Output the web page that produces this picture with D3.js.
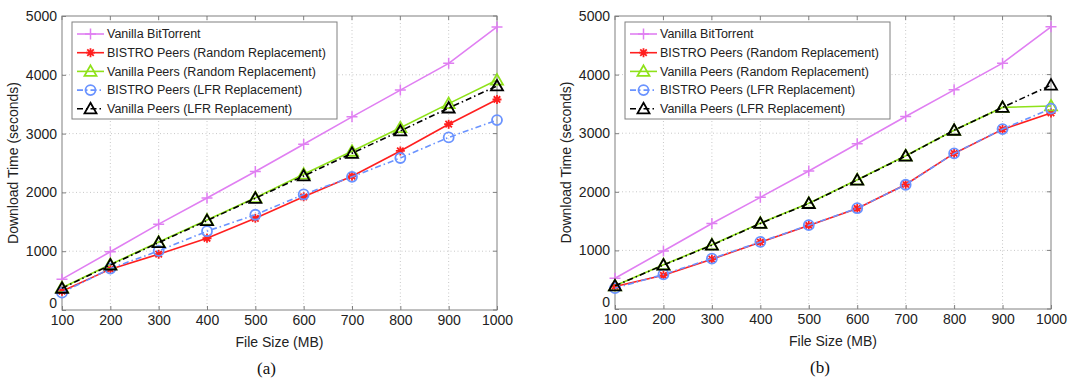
<!DOCTYPE html>
<html>
<head>
<meta charset="utf-8">
<script src="https://cdn.jsdelivr.net/npm/d3@7"></script>
<style>
  body { margin: 0; background: #fff; }
  svg text { font-family: "Liberation Sans", Arial, sans-serif; }
</style>
</head>
<body>
<svg id="chart" width="1070" height="385"></svg>
<script>
// data
const fileSizes = [100, 200, 300, 400, 500, 600, 700, 800, 900, 1000];
const yTicks = [0, 1000, 2000, 3000, 4000, 5000];

const vanillaBT = [525, 990, 1460, 1905, 2355, 2820, 3285, 3740, 4195, 4815];

const bistroRandomA = [320, 695, 950, 1220, 1560, 1925, 2275, 2705, 3160, 3580];
const vanillaRandomA = [380, 775, 1155, 1530, 1910, 2310, 2700, 3100, 3510, 3910];
const bistroLfrA = [295, 705, 1005, 1340, 1620, 1965, 2265, 2585, 2935, 3230];
const vanillaLfrA = [370, 765, 1145, 1520, 1900, 2280, 2665, 3045, 3435, 3810];

const bistroRandomB = [385, 575, 850, 1140, 1425, 1715, 2125, 2655, 3065, 3345];
const vanillaRandomB = [395, 755, 1095, 1465, 1805, 2205, 2615, 3050, 3440, 3465];
const bistroLfrB = [355, 590, 860, 1145, 1430, 1720, 2120, 2655, 3070, 3420];
const vanillaLfrB = [395, 750, 1090, 1460, 1800, 2200, 2610, 3050, 3440, 3820];

const seriesNames = [
    "Vanilla BitTorrent",
    "BISTRO Peers (Random Replacement)",
    "Vanilla Peers (Random Replacement)",
    "BISTRO Peers (LFR Replacement)",
    "Vanilla Peers (LFR Replacement)"
];

// style per series (same order as names)
const styles = [
    { color: "#e07ff2", dash: null, marker: "plus" },
    { color: "#ff1f1f", dash: null, marker: "star" },
    { color: "#8fe21a", dash: null, marker: "triangle" },
    { color: "#6a93ff", dash: "6,3,1.5,3", marker: "circle" },
    { color: "#000000", dash: "6,3,1.5,3", marker: "triangle" }
];

const svg = d3.select("#chart");

function drawMarker(g, type, x, y, color) {
    if (type === "plus") {
        g.append("path")
            .attr("d", "M" + (x - 5.5) + "," + y + "H" + (x + 5.5) + "M" + x + "," + (y - 5.5) + "V" + (y + 5.5))
            .attr("stroke", color).attr("stroke-width", 1.5).attr("fill", "none");
    }
    else if (type === "star") {
        const r = 4.5, d = r * 0.72;
        g.append("path")
            .attr("d", "M" + (x - r) + "," + y + "H" + (x + r) + "M" + x + "," + (y - r) + "V" + (y + r) +
                "M" + (x - d) + "," + (y - d) + "L" + (x + d) + "," + (y + d) +
                "M" + (x - d) + "," + (y + d) + "L" + (x + d) + "," + (y - d))
            .attr("stroke", color).attr("stroke-width", 1.8).attr("fill", "none");
    }
    else if (type === "triangle") {
        const s = 6;
        g.append("path")
            .attr("d", "M" + x + "," + (y - s) + "L" + (x + s) + "," + (y + s * 0.75) + "L" + (x - s) + "," + (y + s * 0.75) + "Z")
            .attr("stroke", color).attr("stroke-width", 1.8).attr("fill", "none");
    }
    else if (type === "circle") {
        g.append("circle")
            .attr("cx", x).attr("cy", y).attr("r", 5)
            .attr("stroke", color).attr("stroke-width", 1.8).attr("fill", "none");
    }
}

function drawPanel(left, right, top, bottom, series, caption) {

    const x = d3.scaleLinear().domain([100, 1000]).range([left, right]);
    const y = d3.scaleLinear().domain([0, 5000]).range([bottom, top]);

    const g = svg.append("g");

    // grid
    g.selectAll(".gx").data(fileSizes.slice(1, -1)).enter().append("line")
        .attr("x1", d => x(d)).attr("x2", d => x(d))
        .attr("y1", top).attr("y2", bottom)
        .attr("stroke", "#c8c8c8").attr("stroke-dasharray", "1,2.5");
    g.selectAll(".gy").data(yTicks.slice(1, -1)).enter().append("line")
        .attr("x1", left).attr("x2", right)
        .attr("y1", d => y(d)).attr("y2", d => y(d))
        .attr("stroke", "#c8c8c8").attr("stroke-dasharray", "1,2.5");

    // axes
    const xAxis = g.append("g").attr("transform", "translate(0," + bottom + ")")
        .call(d3.axisBottom(x).tickValues(fileSizes).tickFormat(d3.format("d")).tickSize(-4).tickPadding(7));
    const yAxis = g.append("g").attr("transform", "translate(" + left + ",0)")
        .call(d3.axisLeft(y).tickValues(yTicks).tickFormat(d3.format("d")).tickSize(-4).tickPadding(5));
    [xAxis, yAxis].forEach(function(a) {
        a.select(".domain").remove();
        a.selectAll("line").attr("stroke", "#808080");
        a.selectAll("text").attr("font-size", 14).attr("fill", "#222")
            .style("font-family", "'Liberation Sans', Arial, sans-serif");
    });
    xAxis.selectAll("text").attr("dy", "0.55em");
    // lift the "0" a little so it clears the "100" below it
    yAxis.selectAll(".tick").filter(d => d === 0).select("text").attr("dy", "-0.2em");

    // top and right ticks
    g.selectAll(".tt").data(fileSizes).enter().append("line")
        .attr("x1", d => x(d)).attr("x2", d => x(d))
        .attr("y1", top).attr("y2", top + 4).attr("stroke", "#808080");
    g.selectAll(".tr").data(yTicks).enter().append("line")
        .attr("x1", right - 4).attr("x2", right)
        .attr("y1", d => y(d)).attr("y2", d => y(d)).attr("stroke", "#808080");

    g.append("rect")
        .attr("x", left).attr("y", top)
        .attr("width", right - left).attr("height", bottom - top)
        .attr("fill", "none").attr("stroke", "#808080").attr("stroke-width", 1);

    // labels
    g.append("text")
        .attr("x", (left + right) / 2).attr("y", bottom + 37)
        .attr("text-anchor", "middle").attr("font-size", 14).attr("fill", "#222")
        .text("File Size (MB)");
    g.append("text")
        .attr("transform", "translate(" + (left - 44) + "," + ((top + bottom) / 2) + ") rotate(-90)")
        .attr("text-anchor", "middle").attr("font-size", 14).attr("fill", "#222")
        .text("Download Time (seconds)");
    g.append("text")
        .attr("x", (left + right) / 2 - 13).attr("y", bottom + 64)
        .attr("text-anchor", "middle").attr("font-size", 17).attr("fill", "#111")
        .style("font-family", "'Liberation Serif', 'Times New Roman', serif")
        .text(caption);

    // lines and markers
    const line = d3.line()
        .x(function(d, i) { return x(fileSizes[i]); })
        .y(function(d) { return y(d); });

    series.forEach(function(values, k) {
        const st = styles[k];
        g.append("path")
            .datum(values)
            .attr("d", line)
            .attr("fill", "none")
            .attr("stroke", st.color)
            .attr("stroke-width", 1.6)
            .attr("stroke-dasharray", st.dash);
        values.forEach(function(v, i) {
            drawMarker(g, st.marker, x(fileSizes[i]), y(v), st.color);
        });
    });

    // legend
    const lx = left + 10, ly = top + 6;
    const lg = g.append("g");
    lg.append("rect")
        .attr("x", lx).attr("y", ly).attr("width", 265).attr("height", 97)
        .attr("fill", "#fff").attr("stroke", "#808080");
    seriesNames.forEach(function(name, k) {
        const st = styles[k];
        const cy = ly + 12 + k * 18.7;
        lg.append("line")
            .attr("x1", lx + 5).attr("x2", lx + 32)
            .attr("y1", cy).attr("y2", cy)
            .attr("stroke", st.color).attr("stroke-width", 1.6)
            .attr("stroke-dasharray", st.dash);
        drawMarker(lg, st.marker, lx + 18.5, cy, st.color);
        lg.append("text")
            .attr("x", lx + 35).attr("y", cy).attr("dy", "0.35em")
            .attr("font-size", 12.5).attr("fill", "#222")
            .text(name);
    });
}

drawPanel(62, 497, 16, 310,
    [vanillaBT, bistroRandomA, vanillaRandomA, bistroLfrA, vanillaLfrA], "(a)");
drawPanel(615, 1051, 16, 309,
    [vanillaBT, bistroRandomB, vanillaRandomB, bistroLfrB, vanillaLfrB], "(b)");
</script>
</body>
</html>
